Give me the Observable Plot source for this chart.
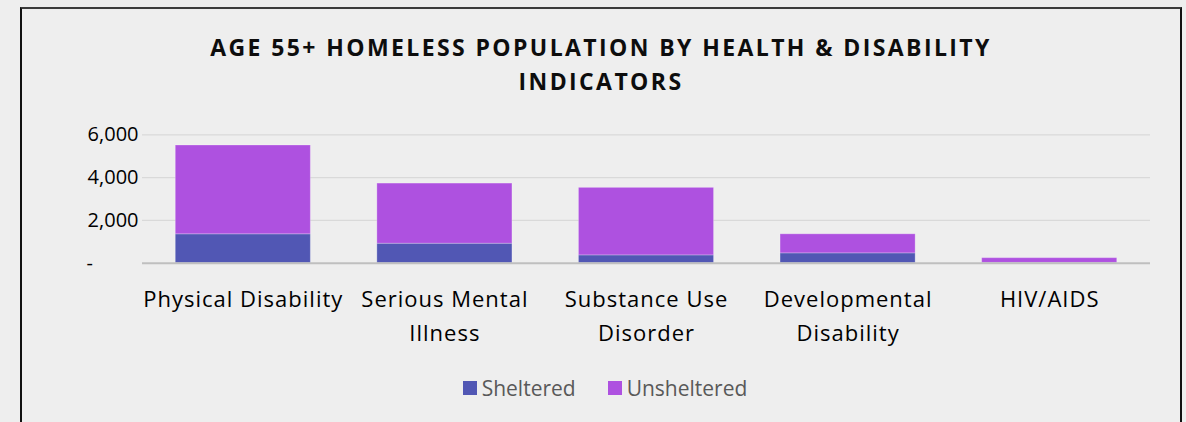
<!DOCTYPE html>
<html>
<head>
<meta charset="utf-8">
<script src="https://cdn.jsdelivr.net/npm/d3@7"></script>
<script src="https://cdn.jsdelivr.net/npm/@observablehq/plot@0.6"></script>
<style>
  html, body { margin: 0; padding: 0; background: #eeeeee; width: 1186px; height: 422px; overflow: hidden; }
  #frame { position: absolute; left: 20px; top: 7px; width: 1158px; height: 440px;
    border-top: 2px solid #3c3c3c; border-left: 2px solid #111; border-right: 2px solid #111; }
  #wrap { position: absolute; left: 0; top: 0; width: 1186px; font-family: "Open Sans", sans-serif; }
  #title { margin-left: 21px; width: 1160px; height: 115px; box-sizing: border-box; padding-top: 30px;
    text-align: center; font-weight: 700; font-size: 23px; line-height: 34px; letter-spacing: 2.4px; color: #0d0d0d; }
  #chart svg { display: block; }
  #chart g[aria-label="x-axis tick label"] { letter-spacing: 1px; }
  #legend { margin-top: 21px; margin-left: 21px; width: 1160px; display: flex; justify-content: center; box-sizing: border-box;
    padding-left: 8px; font-size: 21px; line-height: 24px; color: #595959; }
  .item { display: flex; align-items: center; }
  .item + .item { margin-left: 32px; }
  .sw { width: 14px; height: 14px; margin-right: 5px; }
</style>
</head>
<body>
<div id="frame"></div>
<div id="wrap">
  <div id="title">AGE 55+ HOMELESS POPULATION BY HEALTH &amp; DISABILITY<br>INDICATORS</div>
  <div id="chart"></div>
  <div id="legend"></div>
</div>
<script>
const categories = ["Physical Disability", "Serious Mental Illness", "Substance Use Disorder", "Developmental Disability", "HIV/AIDS"];
const tickLabels = ["Physical Disability", "Serious Mental\nIllness", "Substance Use\nDisorder", "Developmental\nDisability", "HIV/AIDS"];
const sheltered = [1350, 910, 365, 460, 15];
const unsheltered = [4150, 2810, 3155, 890, 220];
const seriesNames = ["Sheltered", "Unsheltered"];
const seriesColors = ["#5157b4", "#ae51e0"];
const yTicks = [2000, 4000, 6000];

const rows = [];
categories.forEach((c, i) => {
  rows.push({category: c, series: "Sheltered", value: sheltered[i]});
  rows.push({category: c, series: "Unsheltered", value: unsheltered[i]});
});
const labelOf = new Map(categories.map((c, i) => [c, tickLabels[i]]));

const chart = Plot.plot({
  width: 1186,
  height: 240,
  marginTop: 19.3,
  marginBottom: 92.3,
  marginLeft: 142,
  marginRight: 36,
  style: {background: "transparent", fontFamily: "Open Sans", fontSize: "20px", color: "#000", overflow: "visible"},
  x: {domain: categories, paddingInner: 0.33, paddingOuter: 0.165, round: false, axis: null},
  y: {domain: [0, 6000], axis: null},
  color: {domain: seriesNames, range: seriesColors},
  marks: [
    Plot.gridY(yTicks, {stroke: "#d9d9d9", strokeOpacity: 1, strokeWidth: 1.2}),
    Plot.barY(rows, {x: "category", y: "value", fill: "series", order: seriesNames, stroke: "#ffffff", strokeOpacity: 0.25, strokeWidth: 1}),
    Plot.ruleY([0], {stroke: "#bfbfbf", strokeWidth: 2}),
    Plot.axisY({ticks: yTicks, tickSize: 0, tickPadding: 4, tickFormat: d3.format(","), fontSize: 20, label: null, fill: "#000"}),
    Plot.axisY({ticks: [0], tickSize: 0, tickPadding: 4, tickFormat: () => "-", textAnchor: "start", dx: -52, fontSize: 20, label: null, fill: "#000"}),
    Plot.axisX({tickSize: 0, tickPadding: 19, tickFormat: d => labelOf.get(d), fontSize: 22, lineHeight: 1.56, label: null, fill: "#000"})
  ]
});
document.getElementById("chart").appendChild(chart);

const legend = document.getElementById("legend");
seriesNames.forEach((name, i) => {
  const item = document.createElement("div");
  item.className = "item";
  const sw = document.createElement("div");
  sw.className = "sw";
  sw.style.background = seriesColors[i];
  const t = document.createElement("span");
  t.textContent = name;
  item.appendChild(sw);
  item.appendChild(t);
  legend.appendChild(item);
});
</script>
</body>
</html>
